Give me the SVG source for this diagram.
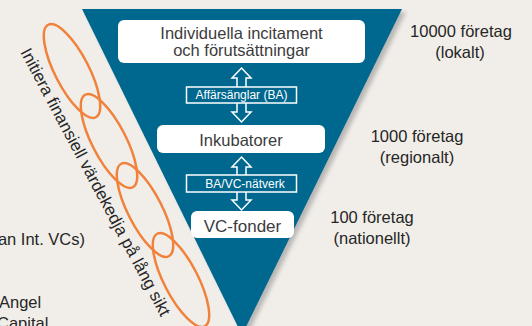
<svg xmlns="http://www.w3.org/2000/svg" width="532" height="326" viewBox="0 0 532 326">
<defs>
<filter id="sh" x="-10%" y="-10%" width="130%" height="130%"><feGaussianBlur stdDeviation="2"/></filter>
<style>
.t{font-family:"Liberation Sans",Arial,sans-serif;}
.box{fill:#ffffff;}
.bt{fill:#3c3c3c;font-size:16.5px;text-anchor:middle;}
.lt{fill:#fff;font-size:12px;text-anchor:middle;}
.lb{fill:#00688f;stroke:#fff;stroke-width:1.5;}
.arr{fill:#00688f;stroke:#fff;stroke-width:1.5;stroke-linejoin:miter;}
.rt{fill:#262626;font-size:16.5px;text-anchor:middle;}
.ring{fill:none;stroke:#f0823c;stroke-width:2.5;}
</style>
</defs>
<rect width="532" height="326" fill="#f1eee9"/>
<g id="funnel">
<polygon points="86,12 406,12 246,338" fill="#8a8a8a" opacity="0.55" filter="url(#sh)"/>
<polygon points="82,9 402,9 242,335" fill="#00688f"/>
</g>
<g id="connectors">
<polygon class="arr" points="241.5,68 251,78 246,78 246,112 251,112 241.5,122 232,112 237,112 237,78 232,78"/>
<polygon class="arr" points="241.5,157 251,167 246,167 246,200 251,200 241.5,210 232,200 237,200 237,167 232,167"/>
</g>
<g id="label-ba">
<rect class="lb" x="186.5" y="87" width="110" height="16"/>
<text class="t lt" x="241.5" y="99">Affärsänglar (BA)</text>
</g>
<g id="label-bavc">
<rect class="lb" x="186.5" y="175" width="110" height="17"/>
<text class="t lt" x="245" y="187.5">BA/VC-nätverk</text>
</g>
<g id="node-individ">
<rect class="box" x="118" y="20" width="247" height="43" rx="6"/>
<text class="t bt" x="241.5" y="39">Individuella incitament</text>
<text class="t bt" x="241.5" y="56">och förutsättningar</text>
</g>
<g id="node-inkubatorer">
<rect class="box" x="157" y="125" width="168" height="28" rx="6"/>
<text class="t bt" x="241" y="145.5">Inkubatorer</text>
</g>
<g id="node-vc">
<rect class="box" x="191" y="211" width="103" height="27" rx="6"/>
<text class="t bt" x="242.5" y="231.5" style="font-size:17px">VC-fonder</text>
</g>
<g id="right-labels">
<text class="t rt" x="461" y="37">10000 företag</text>
<text class="t rt" x="460" y="58">(lokalt)</text>
<text class="t rt" x="417" y="142">1000 företag</text>
<text class="t rt" x="417" y="163">(regionalt)</text>
<text class="t rt" x="372" y="223">100 företag</text>
<text class="t rt" x="372" y="244">(nationellt)</text>
</g>
<g id="left-labels">
<text class="t" x="85" y="245" fill="#262626" font-size="16.5" text-anchor="end">an Int. VCs)</text>
<text class="t" x="-1" y="308" fill="#262626" font-size="16.5">Angel</text>
<text class="t" x="-3" y="329" fill="#262626" font-size="16.5">Capital</text>
</g>
<g id="chain">
<ellipse class="ring" cx="72" cy="71" rx="52" ry="17" transform="rotate(62.8 72 71)"/>
<ellipse class="ring" cx="109" cy="141" rx="52" ry="17" transform="rotate(62.8 109 141)"/>
<ellipse class="ring" cx="145" cy="210" rx="52" ry="17" transform="rotate(62.8 145 210)"/>
<ellipse class="ring" cx="181" cy="280" rx="52" ry="17" transform="rotate(62.8 181 280)"/>
<text class="t" transform="translate(20 52) rotate(62)" fill="#262626" font-size="17">Initiera finansiell värdekedja på lång sikt</text>
</g>
</svg>
